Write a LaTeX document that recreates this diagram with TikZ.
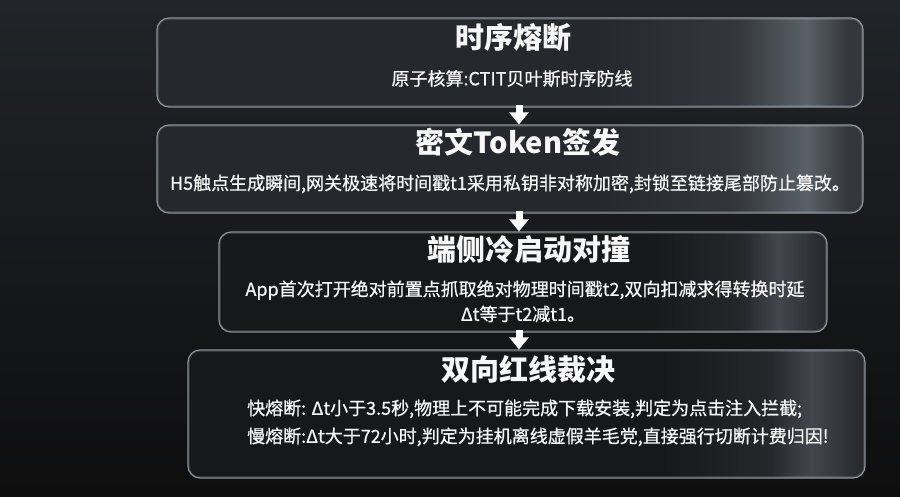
\documentclass[tikz,border=0pt]{standalone}
\usepackage{fontspec}
\setmainfont{Noto Sans CJK SC}
\newfontfamily\bodyfont[FakeBold=0.7]{Noto Sans CJK SC}
\usetikzlibrary{arrows.meta}
\definecolor{bgtop}{HTML}{212428}
\definecolor{bgbot}{HTML}{0E0E0F}
\definecolor{gA}{HTML}{25282D}
\definecolor{gB}{HTML}{33373D}
\definecolor{gC}{HTML}{5A6068}
\definecolor{dA}{HTML}{17181A}
\definecolor{dB}{HTML}{25272B}
\definecolor{dC}{HTML}{43474D}
\definecolor{rim}{HTML}{A4ABB3}
\definecolor{txt}{HTML}{F7F7F7}
\pgfdeclarehorizontalshading{glassup}{100bp}{color(0bp)=(gA); color(25bp)=(gA); color(56bp)=(gA); color(66bp)=(gB); color(71bp)=(gC); color(74bp)=(gB); color(100bp)=(gB)}
\pgfdeclarehorizontalshading{glassdown}{100bp}{color(0bp)=(dA); color(25bp)=(dA); color(60bp)=(dA); color(68bp)=(dB); color(71bp)=(dC); color(75bp)=(dB); color(100bp)=(dB)}
\tikzset{
  glassbox/.style={rectangle, rounded corners=12pt, draw=rim, draw opacity=0.85, line width=1.2pt, inner sep=0pt},
  upper/.style={glassbox, shading=glassup},
  lower/.style={glassbox, shading=glassdown},
  innerrim/.style={draw=white, draw opacity=0.12, line width=0.8pt, rounded corners=10pt},
  txtbase/.style={inner sep=0pt, text=txt, text height=.88em, text depth=.12em},
  ttl/.style={txtbase, font=\bfseries\fontsize{29}{34}\selectfont},
  body/.style={txtbase, font=\bodyfont\fontsize{18}{22}\selectfont},
  flowarrow/.style={draw=white, line width=7pt, -{Triangle[width=19pt,length=12pt]}, white}
}
\begin{document}
\begin{tikzpicture}[x=1pt,y=-1pt]
\useasboundingbox (0,0) rectangle (900,497);
\shade[top color=bgtop, bottom color=bgbot] (0,0) rectangle (900,497);

\node[upper, minimum width=706pt, minimum height=89pt] (b1) at (510,62.5) {};
\node[upper, minimum width=706pt, minimum height=88pt] (b2) at (510,169) {};
\node[lower, minimum width=608pt, minimum height=100pt] (b3) at (523,282) {};
\node[lower, minimum width=677pt, minimum height=128pt] (b4) at (526.5,414) {};

\foreach \b in {b1,b2,b3,b4}
  \draw[innerrim] ([shift={(2pt,-2pt)}]\b.north west) rectangle ([shift={(-2pt,2pt)}]\b.south east);

\coordinate (ax) at (519,0);
\draw[flowarrow] ([yshift=3pt]b1.south -| ax) -- (b2.north -| ax);
\draw[flowarrow] ([yshift=3pt]b2.south -| ax) -- (b3.north -| ax);
\draw[flowarrow] ([yshift=3pt]b3.south -| ax) -- (b4.north -| ax);

\node[ttl] (t1) at (513,44.5) {时序熔断};
\node[body] (s1) at (512,81.5) {原子核算:CTIT贝叶斯时序防线};

\node[ttl] (t2) at (518,150) {密文Token签发};
\node[body] (s2) at (510,186) {H5触点生成瞬间,网关极速将时间戳t1采用私钥非对称加密,封锁至链接尾部防止篡改。};

\node[ttl] (t3) at (529,257) {端侧冷启动对撞};
\node[body] (s3a) at (525,292) {App首次打开绝对前置点抓取绝对物理时间戳t2,双向扣减求得转换时延};
\node[body] (s3b) at (523,317) {Δt等于t2减t1。};

\node[ttl] (t4) at (528,377) {双向红线裁决};
\node[body, anchor=west] (s4a) at (247,411) {快熔断: Δt小于3.5秒,物理上不可能完成下载安装,判定为点击注入拦截;};
\node[body, anchor=west] (s4b) at (247,439) {慢熔断:Δt大于72小时,判定为挂机离线虚假羊毛党,直接强行切断计费归因!};
\end{tikzpicture}
\end{document}
